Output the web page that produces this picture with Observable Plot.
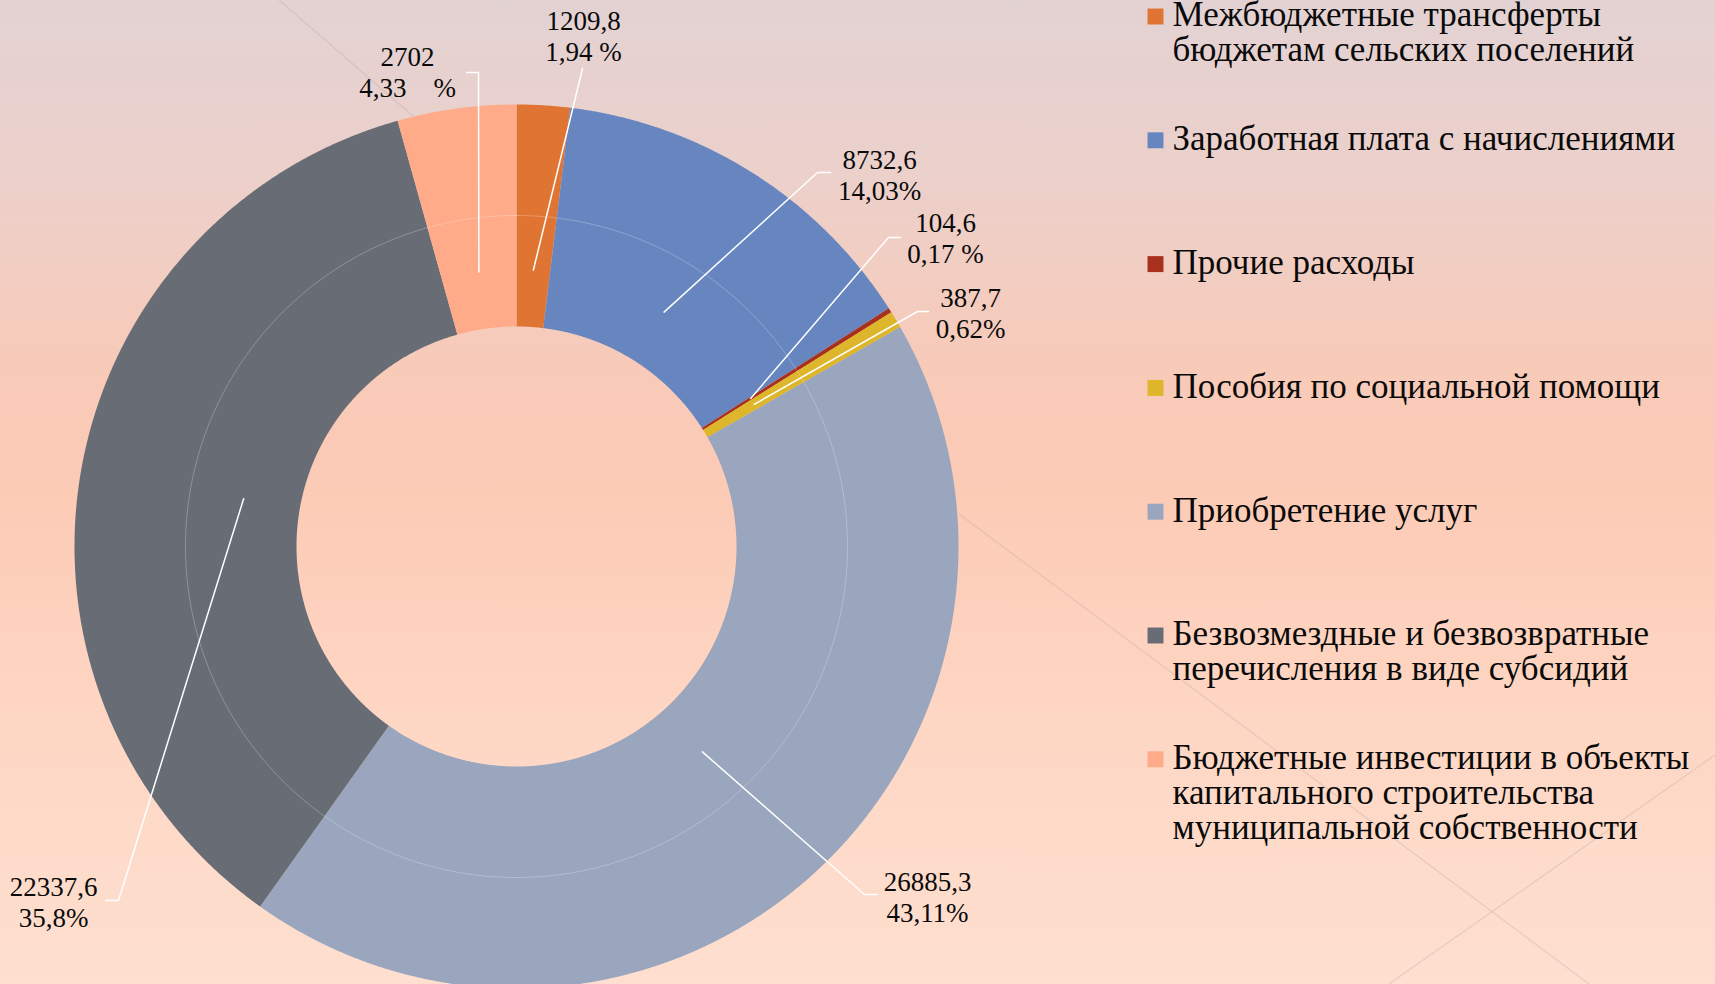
<!DOCTYPE html>
<html>
<head>
<meta charset="utf-8">
<script src="https://cdn.jsdelivr.net/npm/d3@7"></script>
<script src="https://cdn.jsdelivr.net/npm/@observablehq/plot@0.6"></script>
<style>
  html, body { margin: 0; padding: 0; width: 1715px; height: 984px; overflow: hidden; }
  body {
    position: relative;
    background: linear-gradient(to bottom, #e3d2d3 0%, #ecd0ca 18%, #f8cab8 38%, #fccbb6 50%, #fed6c3 72%, #fedfd0 100%);
  }
  #deco, #chart { position: absolute; left: 0; top: 0; }
</style>
</head>
<body>
<svg id="deco" width="1715" height="984">
  <g stroke="#b8a8a2" stroke-opacity="0.35" stroke-width="1.2">
    <line x1="279" y1="0" x2="420" y2="122"></line>
    <line x1="959" y1="514" x2="1589" y2="984"></line>
    <line x1="1715" y1="755" x2="1389" y2="984"></line>
  </g>
</svg>
<div id="chart"></div>
<script>
// ---- data ----
const categories = [
  "Межбюджетные трансферты бюджетам сельских поселений",
  "Заработная плата с начислениями",
  "Прочие расходы",
  "Пособия по социальной помощи",
  "Приобретение услуг",
  "Безвозмездные и безвозвратные перечисления в виде субсидий",
  "Бюджетные инвестиции в объекты капитального строительства муниципальной собственности"
];
const legendText = [
  "Межбюджетные трансферты\nбюджетам сельских поселений",
  "Заработная плата с начислениями",
  "Прочие расходы",
  "Пособия по социальной помощи",
  "Приобретение услуг",
  "Безвозмездные и безвозвратные\nперечисления в виде субсидий",
  "Бюджетные инвестиции в объекты\nкапитального строительства\nмуниципальной собственности"
];
const values = [1209.8, 8732.6, 104.6, 387.7, 26885.3, 22337.6, 2702];
const valueLabels = ["1209,8", "8732,6", "104,6", "387,7", "26885,3", "22337,6", "2702"];
const percentLabels = ["1,94 %", "14,03%", "0,17 %", "0,62%", "43,11%", "35,8%", "4,33    %"];
const colors = ["#e07533", "#6786c0", "#a8311e", "#ddb62b", "#9aa5be", "#686d75", "#ffaa89"];

// ---- layout ----
const W = 1715, H = 984;
const CX = 516, CY = 546, R_OUT = 442, R_IN = 220, R_RING = 331, R_LEADER = 277;
const labelLayout = [
  {at: [583, 35],  elbows: [[582, 68]]},
  {at: [879, 174], elbows: [[817, 172], [830, 172]]},
  {at: [945, 237], elbows: [[888, 237], [900, 237]]},
  {at: [970, 312], elbows: [[917, 311], [928, 311]]},
  {at: [927, 896], elbows: [[864, 894], [877, 894]]},
  {at: [53, 901],  elbows: [[118, 900], [105, 900]]},
  {at: [407, 71],  elbows: [[478, 72], [466, 72]]}
];
const LEG_X_BOX = 1155, LEG_X_TEXT = 1172, LEG_Y0 = 16, LEG_STEP = 123.8, LEG_FS = 35;

// ---- geometry from values ----
const pie = d3.pie().sort(null).value(d => d)(values);
const pt = (a, r) => [CX + r * Math.sin(a), CY - r * Math.cos(a)];
const arcPts = (a0, a1, r) => {
  const n = Math.max(2, Math.ceil(Math.abs(a1 - a0) / (Math.PI / 720)));
  return d3.range(n + 1).map(i => pt(a0 + (a1 - a0) * i / n, r));
};
const slices = pie.map((p, i) => ({
  type: "Feature",
  properties: {cat: categories[i]},
  geometry: {
    type: "Polygon",
    coordinates: [[...arcPts(p.startAngle, p.endAngle, R_OUT), ...arcPts(p.endAngle, p.startAngle, R_IN), pt(p.startAngle, R_OUT)]]
  }
}));
const ring = {type: "LineString", coordinates: arcPts(0, 2 * Math.PI, R_RING)};

const leaders = pie.flatMap((p, i) => {
  const m = (p.startAngle + p.endAngle) / 2;
  return [pt(m, R_LEADER), ...labelLayout[i].elbows].map(([x, y]) => ({x, y, k: i}));
});
const labels = pie.map((p, i) => ({
  x: labelLayout[i].at[0], y: labelLayout[i].at[1],
  text: valueLabels[i] + "\n" + percentLabels[i]
}));
const legend = categories.map((c, i) => ({cat: c, text: legendText[i], i}));

const chart = Plot.plot({
  width: W,
  height: H,
  margin: 0,
  style: {background: "transparent", fontFamily: "'Liberation Serif', 'Times New Roman', serif"},
  projection: {
    type: "identity",
    inset: 0,
    domain: {type: "Polygon", coordinates: [[[0, 0], [W, 0], [W, H], [0, H], [0, 0]]]}
  },
  color: {domain: categories, range: colors},
  marks: [
    Plot.geo(slices, {fill: d => d.properties.cat}),
    Plot.geo([ring], {stroke: "#ffffff", strokeOpacity: 0.25, strokeWidth: 1, fill: "none"}),
    Plot.line(leaders, {x: "x", y: "y", z: "k", stroke: "#ffffff", strokeWidth: 1.5}),
    Plot.text(labels, {
      x: "x", y: "y", text: "text",
      fontSize: 27, lineHeight: 1.17, fill: "#0a0a0a", lineAnchor: "middle", textAnchor: "middle"
    }),
    Plot.dot(legend, {
      x: () => LEG_X_BOX, y: d => LEG_Y0 + d.i * LEG_STEP,
      symbol: "square", r: 9, fill: "cat", stroke: "none"
    }),
    Plot.text(legend, {
      x: () => LEG_X_TEXT, y: d => LEG_Y0 + d.i * LEG_STEP, dy: -15,
      text: "text", textAnchor: "start", lineAnchor: "top",
      fontSize: LEG_FS, lineHeight: 1.0, fill: "#0a0a0a"
    })
  ]
});
document.getElementById("chart").appendChild(chart);
</script>
</body>
</html>
